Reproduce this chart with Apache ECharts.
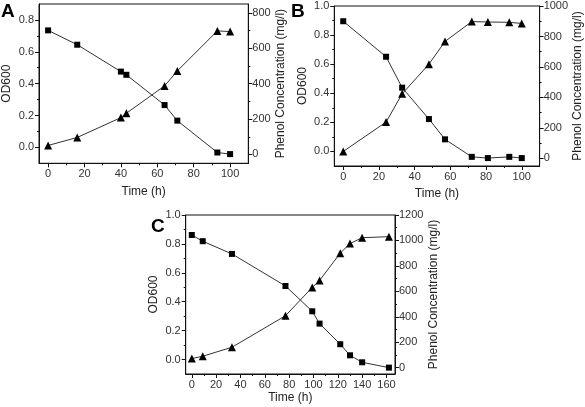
<!DOCTYPE html>
<html><head><meta charset="utf-8">
<script src="https://cdn.jsdelivr.net/npm/echarts@6/dist/echarts.min.js"></script>
<style>html,body{margin:0;padding:0;background:#fff}#c{width:585px;height:407px}</style>
</head><body><div id="c"></div>
<script>
// Panel A
const timeA = [0, 16, 40, 43, 64, 71, 93, 100];
const odA = [0.012, 0.062, 0.187, 0.214, 0.386, 0.48, 0.731, 0.727];
const phenolA = [701, 620, 468, 450, 279, 191, 11, 2];
// Panel B
const timeB = [0, 24, 33, 48, 57, 72, 81, 93, 100];
const odB = [0.0, 0.202, 0.396, 0.60, 0.756, 0.893, 0.89, 0.888, 0.88];
const phenolB = [900, 667, 464, 258, 125, 10, 2, 10, 2];
// Panel C
const timeC = [0, 9, 33, 77, 99, 105, 122, 130, 140, 162];
const odC = [0.007, 0.023, 0.085, 0.303, 0.499, 0.547, 0.736, 0.802, 0.843, 0.85];
const phenolC = [1043, 994, 894, 642, 443, 346, 184, 97, 42, 0];

// tick labels
const timeTicksAB = [0, 20, 40, 60, 80, 100];
const timeMinorAB = [10, 30, 50, 70, 90];
const timeTicksC = [0, 20, 40, 60, 80, 100, 120, 140, 160];
const timeMinorC = [10, 30, 50, 70, 90, 110, 130, 150];
const odTicksA = [0, 0.2, 0.4, 0.6, 0.8];
const odMinorA = [0.1, 0.3, 0.5, 0.7];
const odTicksBC = [0, 0.2, 0.4, 0.6, 0.8, 1.0];
const odMinorBC = [0.1, 0.3, 0.5, 0.7, 0.9];
const phTicksA = [0, 200, 400, 600, 800];
const phMinorA = [100, 300, 500, 700];
const phTicksB = [0, 200, 400, 600, 800, 1000];
const phMinorB = [100, 300, 500, 700, 900];
const phTicksC = [0, 200, 400, 600, 800, 1000, 1200];
const phMinorC = [100, 300, 500, 700, 900, 1100];

const FONT = 'Liberation Sans';
const panels = [
  {grid:{left:37.7, top:4, width:210.6, height:159.3}, xr:[-5,110], odr:[-0.1,0.9], phr:[-50,850],
   xt:timeTicksAB, xm:timeMinorAB, ot:odTicksA, om:odMinorA, pt:phTicksA, pm:phMinorA,
   t:timeA, od:odA, ph:phenolA, label:'A', lx:1, ly:2, xGap:22},
  {grid:{left:334.3, top:6, width:210, height:160}, xr:[-5,110], odr:[-0.1,1.0], phr:[-50,1000],
   xt:timeTicksAB, xm:timeMinorAB, ot:odTicksBC, om:odMinorBC, pt:phTicksB, pm:phMinorB,
   t:timeB, od:odB, ph:phenolB, label:'B', lx:291, ly:2, xGap:22},
  {grid:{left:185.7, top:215, width:209.3, height:159}, xr:[-5,167], odr:[-0.1,1.0], phr:[-50,1200],
   xt:timeTicksC, xm:timeMinorC, ot:odTicksBC, om:odMinorBC, pt:phTicksC, pm:phMinorC,
   t:timeC, od:odC, ph:phenolC, label:'C', lx:151, ly:217, xGap:18},
];

const grids=[], xAxes=[], yAxes=[], series=[], titles=[];
const lineC = '#111';
const lbl = {color:'#333', fontSize:11, fontFamily:FONT};
const nameStyle = {color:'#222', fontSize:12, fontFamily:FONT};
panels.forEach((p, g) => {
  grids.push(Object.assign({show:true, borderColor:lineC, borderWidth:1, containLabel:false}, p.grid));
  const xi = xAxes.length;
  xAxes.push({type:'value', gridIndex:g, min:p.xr[0], max:p.xr[1], position:'bottom',
    axisLine:{show:true, onZero:false, lineStyle:{color:lineC}},
    axisTick:{show:true, length:4, customValues:p.xt, lineStyle:{color:lineC}},
    axisLabel:Object.assign({customValues:p.xt, margin:5, formatter:v=>String(v)}, lbl),
    splitLine:{show:false},
    name:'Time (h)', nameLocation:'middle', nameGap:p.xGap, nameTextStyle:nameStyle});
  xAxes.push({type:'value', gridIndex:g, min:p.xr[0], max:p.xr[1], position:'bottom',
    axisLine:{show:false, onZero:false}, axisTick:{show:true, length:2, customValues:p.xm, lineStyle:{color:lineC}},
    axisLabel:{show:false}, splitLine:{show:false}});
  const yi = yAxes.length;
  // 0: OD axis (left), 1: phenol axis (right), 2/3: minor tick axes
  yAxes.push({type:'value', gridIndex:g, min:p.odr[0], max:p.odr[1], position:'left',
    axisLine:{show:true, onZero:false, lineStyle:{color:lineC}},
    axisTick:{show:true, length:4, customValues:p.ot, lineStyle:{color:lineC}},
    axisLabel:Object.assign({customValues:p.ot, margin:5, formatter:v=>v.toFixed(1)}, lbl),
    splitLine:{show:false},
    name:'OD600', nameLocation:'middle', nameGap:26, nameTextStyle:nameStyle});
  yAxes.push({type:'value', gridIndex:g, min:p.phr[0], max:p.phr[1], position:'right',
    axisLine:{show:true, onZero:false, lineStyle:{color:lineC}},
    axisTick:{show:true, length:4, customValues:p.pt, lineStyle:{color:lineC}},
    axisLabel:Object.assign({customValues:p.pt, margin:4, formatter:v=>String(v)}, lbl),
    splitLine:{show:false},
    name:'Phenol Concentration (mg/l)', nameLocation:'middle', nameGap:26, nameRotate:90, nameTextStyle:nameStyle});
  yAxes.push({type:'value', gridIndex:g, min:p.odr[0], max:p.odr[1], position:'left',
    axisLine:{show:false, onZero:false}, axisTick:{show:true, length:2, customValues:p.om, lineStyle:{color:lineC}},
    axisLabel:{show:false}, splitLine:{show:false}});
  yAxes.push({type:'value', gridIndex:g, min:p.phr[0], max:p.phr[1], position:'right',
    axisLine:{show:false, onZero:false}, axisTick:{show:true, length:2, customValues:p.pm, lineStyle:{color:lineC}},
    axisLabel:{show:false}, splitLine:{show:false}});
  // squares: phenol concentration (right axis)
  series.push({type:'line', xAxisIndex:xi, yAxisIndex:yi+1, data:p.t.map((t,i)=>[t,p.ph[i]]),
    symbol:'rect', symbolSize:6, lineStyle:{color:'#333', width:1}, itemStyle:{color:'#000'}, animation:false});
  // triangles: OD600 (left axis)
  series.push({type:'line', xAxisIndex:xi, yAxisIndex:yi, data:p.t.map((t,i)=>[t,p.od[i]]),
    symbol:'triangle', symbolSize:8, lineStyle:{color:'#333', width:1}, itemStyle:{color:'#000'}, animation:false});
  titles.push({text:p.label, left:p.lx, top:p.ly, padding:0,
    textStyle:{fontSize:19, fontWeight:'bold', color:'#000', fontFamily:FONT}});
});

const chart = echarts.init(document.getElementById('c'), null, {renderer:'canvas'});
chart.setOption({animation:false, title:titles, grid:grids, xAxis:xAxes, yAxis:yAxes, series:series});
</script></body></html>
